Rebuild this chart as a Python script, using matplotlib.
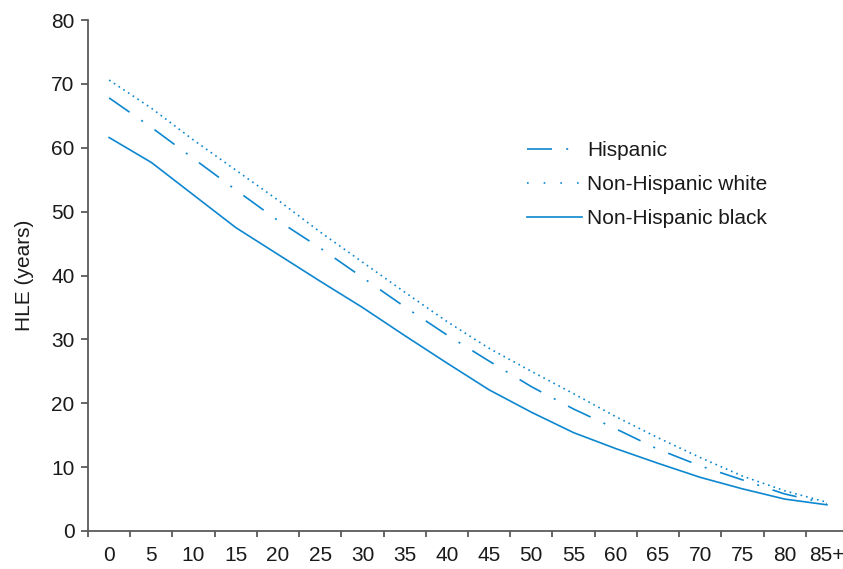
import matplotlib
matplotlib.use("Agg")
import matplotlib.pyplot as plt
from matplotlib.lines import Line2D

plt.rcParams['font.family'] = ['Liberation Sans', 'DejaVu Sans']

# Healthy life expectancy by age group
age_groups = ["0", "5", "10", "15", "20", "25", "30", "35", "40", "45",
              "50", "55", "60", "65", "70", "75", "80", "85+"]
hispanic = [67.8, 63.2, 58.3, 53.4, 48.6, 44.3, 39.7, 35.1, 30.7, 26.6,
            22.6, 19.1, 16.0, 12.8, 10.2, 8.0, 5.8, 4.3]
nh_white = [70.6, 66.2, 61.2, 56.5, 51.8, 46.8, 42.1, 37.4, 32.8, 28.6,
            25.0, 21.5, 17.9, 14.6, 11.5, 8.6, 6.3, 4.5]
nh_black = [61.6, 57.7, 52.6, 47.5, 43.3, 39.1, 35.0, 30.6, 26.3, 22.1,
            18.6, 15.4, 12.9, 10.6, 8.4, 6.6, 5.0, 4.1]

BLUE = "#0d87cf"
AXIS = "#5a5a5a"
TXT = "#1a1a1a"
LW = 1.2

fig = plt.figure(figsize=(8.43, 5.69), dpi=100)
ax = fig.add_axes([88 / 843, 38 / 569, 760 / 843, 511 / 569])

x = list(range(len(age_groups)))
dashdot = (0, (15.0, 8.5, 1.2, 8.5))
dotted = (0, (1.0, 2.4))
ax.plot(x, hispanic, color=BLUE, lw=LW, linestyle=dashdot)
ax.plot(x, nh_white, color=BLUE, lw=LW, linestyle=dotted)
ax.plot(x, nh_black, color=BLUE, lw=LW, linestyle="-")

ax.set_xlim(-0.5, 17.5)
ax.set_ylim(0, 80)
ax.set_yticks(range(0, 81, 10))
ax.set_xticks(x)
ax.set_xticklabels(age_groups)
# ticks sit between the categories
ax.set_xticks([i - 0.5 for i in range(len(age_groups) + 1)], minor=True)
ax.tick_params(axis="x", which="major", length=0, pad=11, labelsize=15, labelcolor=TXT)
ax.tick_params(axis="x", which="minor", length=4, width=1.3, color=AXIS)
ax.tick_params(axis="y", length=4.8, width=1.3, color=AXIS, pad=5, labelsize=15, labelcolor=TXT)

for side in ["top", "right"]:
    ax.spines[side].set_visible(False)
for side in ["left", "bottom"]:
    ax.spines[side].set_color(AXIS)
    ax.spines[side].set_linewidth(1.3)

ax.set_ylabel("HLE (years)", fontsize=15, color=TXT, labelpad=12)

handles = [
    Line2D([], [], color=BLUE, lw=LW, linestyle=dashdot),
    Line2D([], [], color=BLUE, lw=LW, linestyle=(0, (1.0, 9.0))),
    Line2D([], [], color=BLUE, lw=LW, linestyle="-"),
]
labels = ["Hispanic", "Non-Hispanic white", "Non-Hispanic black"]
leg = ax.legend(handles, labels, loc="upper left", bbox_to_anchor=(527 / 843, 1 - 141 / 569),
                bbox_transform=fig.transFigure, frameon=False, fontsize=15,
                handlelength=2.64, handletextpad=0.25, labelspacing=0.72,
                borderpad=0, borderaxespad=0)
for t in leg.get_texts():
    t.set_color(TXT)

fig.savefig("out.png", dpi=100)
